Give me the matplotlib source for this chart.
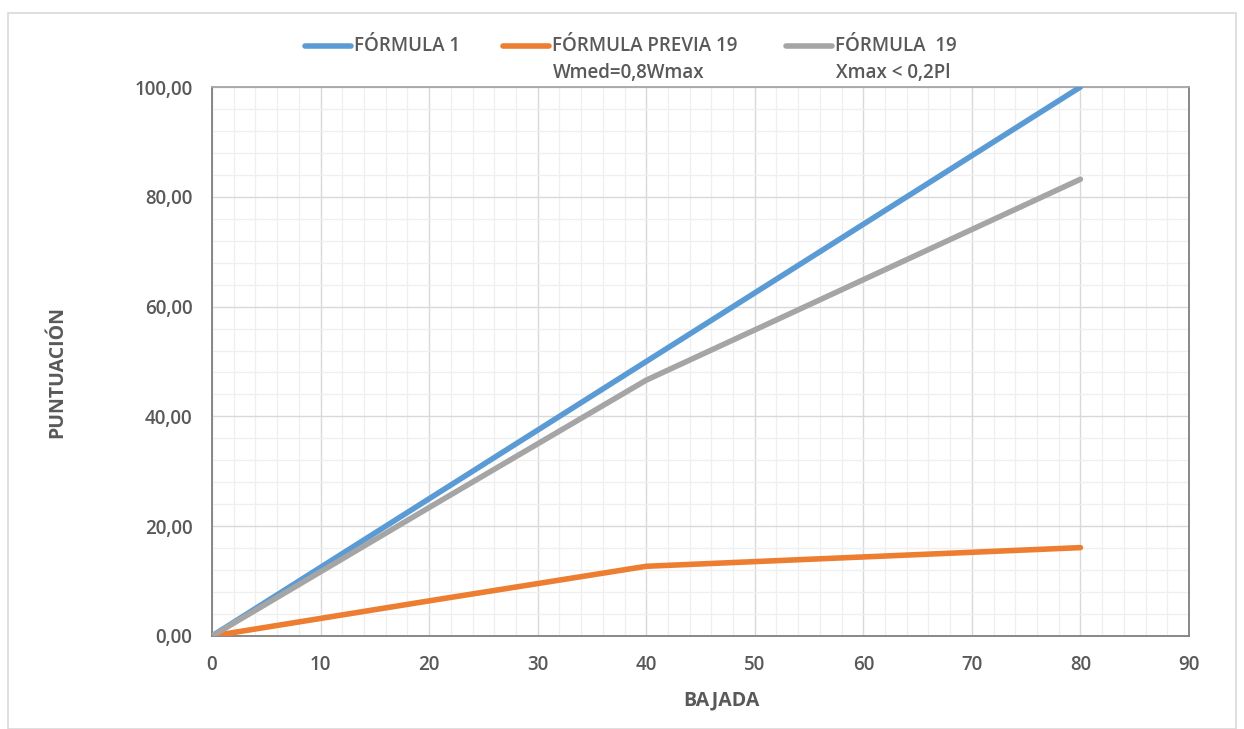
import matplotlib.pyplot as plt
from matplotlib.lines import Line2D
from matplotlib.patches import Rectangle
from matplotlib.ticker import MultipleLocator, FuncFormatter

# Data
bajada = [0, 20, 40, 80]
formula_1 = [0.0, 25.0, 50.0, 100.0]
formula_previa_19 = [0.0, 6.4, 12.7, 16.1]
formula_19 = [0.0, 23.4, 46.6, 83.2]

series_names = ["FÓRMULA 1", "FÓRMULA PREVIA 19", "FÓRMULA  19"]
series_notes = ["", "Wmed=0,8Wmax", "Xmax < 0,2Pl"]
series_colors = ["#5B9BD5", "#ED7D31", "#A5A5A5"]

TEXT = "#595959"
plt.rcParams['font.family'] = ['Open Sans', 'DejaVu Sans']

fig = plt.figure(figsize=(12.44, 7.29), dpi=100)
W, H = 1244, 729

# outer chart frame
fig.patches.append(Rectangle((8 / W, 0), 1228 / W, 1 - 13 / H, transform=fig.transFigure,
                             fill=False, edgecolor="#D9D9D9", linewidth=1.2))

ax = fig.add_axes([212 / W, 1 - 636 / H, (1189 - 212) / W, (636 - 87) / H])

for ys, c in zip([formula_1, formula_previa_19, formula_19], series_colors):
    ax.plot(bajada, ys, color=c, linewidth=4.0, solid_capstyle='round', zorder=3)

ax.set_xlim(0, 90)
ax.set_ylim(0, 100)
ax.xaxis.set_major_locator(MultipleLocator(10))
ax.xaxis.set_minor_locator(MultipleLocator(2))
ax.yaxis.set_major_locator(MultipleLocator(20))
ax.yaxis.set_minor_locator(MultipleLocator(4))
ax.yaxis.set_major_formatter(FuncFormatter(lambda v, p: f"{v:.2f}".replace('.', ',')))

ax.grid(which='major', color="#D9D9D9", linewidth=1.0)
ax.grid(which='minor', color="#EFEFEF", linewidth=0.9)
ax.set_axisbelow(True)
for s in ax.spines.values():
    s.set_color("#7F7F7F")
    s.set_linewidth(1.3)
ax.spines['top'].set_color("#A6A6A6")

ax.tick_params(which='both', length=0, labelsize=13.5, labelcolor=TEXT)
ax.tick_params(axis='x', pad=14)
ax.tick_params(axis='y', pad=14)
for lbl in ax.get_xticklabels() + ax.get_yticklabels():
    lbl.set_fontweight('semibold')

# axis titles
fig.text(721 / W, 1 - 700 / H, "BAJADA", fontsize=14, color=TEXT, fontweight='bold',
         ha='center', va='center')
fig.text(57 / W, 1 - 372 / H, "PUNTUACIÓN", fontsize=14, color=TEXT, fontweight='bold',
         ha='center', va='center', rotation=90)

# legend drawn by hand (Excel style, second text line under the label)
leg_x = [305, 503, 786]
for x0, name, note, c in zip(leg_x, series_names, series_notes, series_colors):
    fig.add_artist(Line2D([x0 / W, (x0 + 46) / W], [1 - 46 / H] * 2, color=c,
                          linewidth=4.0, solid_capstyle='round', transform=fig.transFigure))
    fig.text((x0 + 49) / W, 1 - 46 / H, name, fontsize=13.5, color=TEXT, va='center',
             fontweight='semibold')
    if note:
        fig.text((x0 + 50) / W, 1 - 73 / H, note, fontsize=13.5, color=TEXT, va='center',
                 fontweight='semibold')

fig.savefig("out.png", dpi=100)
